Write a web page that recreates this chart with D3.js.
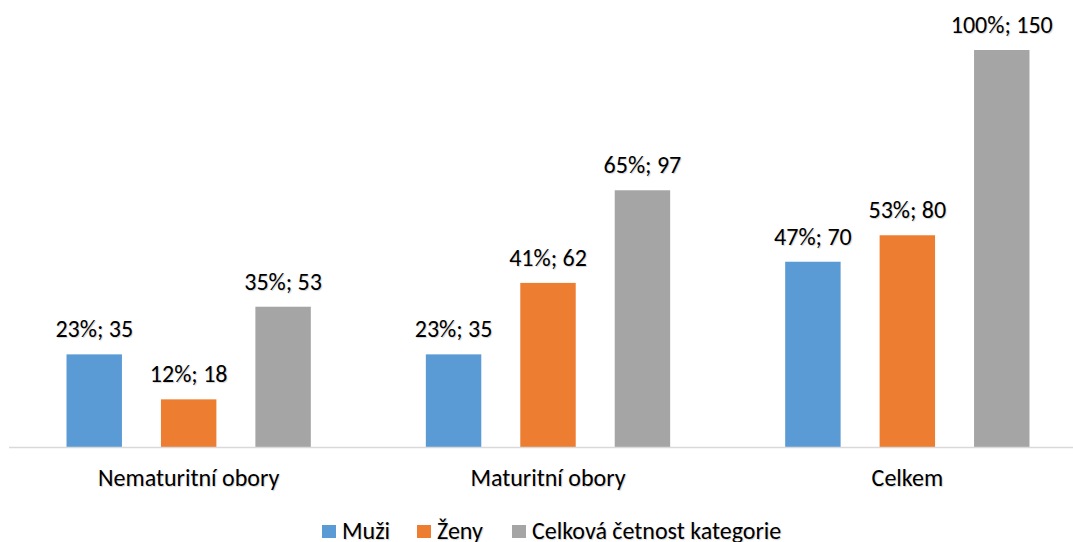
<!DOCTYPE html>
<html>
<head>
<meta charset="utf-8">
<script src="https://cdn.jsdelivr.net/npm/d3@7"></script>
<style>
  body { margin: 0; background: #fff; }
  text { font-family: Carlito, Calibri, "Open Sans", sans-serif; fill: #000; text-shadow: 1px 1px 1px rgba(0,0,0,0.18); }
</style>
</head>
<body>
<svg id="chart" width="1073" height="542"></svg>
<script>
// categories and series
var categories = ["Nematuritní obory", "Maturitní obory", "Celkem"];
var series = ["Muži", "Ženy", "Celková četnost kategorie"];
var colors = ["#5B9BD5", "#ED7D31", "#A5A5A5"];

// counts per series, one value per category
var muzi   = [35, 35, 70];
var zeny   = [18, 62, 80];
var celkem = [53, 97, 150];

// percentage labels
var muziPct   = ["23%", "23%", "47%"];
var zenyPct   = ["12%", "41%", "53%"];
var celkemPct = ["35%", "65%", "100%"];

var values = [muzi, zeny, celkem];
var pcts = [muziPct, zenyPct, celkemPct];

var svg = d3.select('#chart');
var baseY = 447;
var fs = 24;

var x = d3.scaleBand().domain(categories).range([9, 1087]).paddingInner(0).paddingOuter(0);
var xs = d3.scaleBand().domain(series).range([0, x.bandwidth()]).paddingInner(0.413).paddingOuter(0.609);
var y = d3.scaleLinear().domain([0, 150]).range([baseY, 50]);

// flatten for drawing
var rows = [];
categories.forEach(function(c, ci){
	series.forEach(function(s, si){
		rows.push({cat: c, ser: s, si: si, v: values[si][ci], p: pcts[si][ci]});
	});
});

svg.selectAll('rect.bar').data(rows).enter().append('rect')
	.attr('class', 'bar')
	.attr('x', function(d){ return x(d.cat) + xs(d.ser); })
	.attr('y', function(d){ return y(d.v); })
	.attr('width', xs.bandwidth())
	.attr('height', function(d){ return baseY - y(d.v); })
	.attr('fill', function(d){ return colors[d.si]; });

// axis line
svg.append('line')
	.attr('x1', 9).attr('x2', 1073)
	.attr('y1', baseY + 0.5).attr('y2', baseY + 0.5)
	.attr('stroke', '#D9D9D9').attr('stroke-width', 1.5);

// value labels
svg.selectAll('text.val').data(rows).enter().append('text')
	.attr('class', 'val')
	.attr('x', function(d){ return x(d.cat) + xs(d.ser) + xs.bandwidth() / 2; })
	.attr('y', function(d){ return y(d.v) - 17; })
	.attr('text-anchor', 'middle')
	.attr('font-size', fs)
	.text(function(d){ return d.p + '; ' + d.v; });

// category labels
svg.selectAll('text.cat').data(categories).enter().append('text')
	.attr('class', 'cat')
	.attr('x', function(d){ return x(d) + x.bandwidth() / 2; })
	.attr('y', 486)
	.attr('text-anchor', 'middle')
	.attr('font-size', fs)
	.text(function(d){ return d; });

// legend
var legX = [322, 417, 512];
var leg = svg.selectAll('g.leg').data(series).enter().append('g')
	.attr('class', 'leg')
	.attr('transform', function(d, i){ return 'translate(' + legX[i] + ',525)'; });
leg.append('rect').attr('width', 14).attr('height', 13)
	.attr('fill', function(d, i){ return colors[i]; });
leg.append('text').attr('x', 20).attr('y', 13.5).attr('font-size', fs)
	.text(function(d){ return d; });
</script>
</body>
</html>
